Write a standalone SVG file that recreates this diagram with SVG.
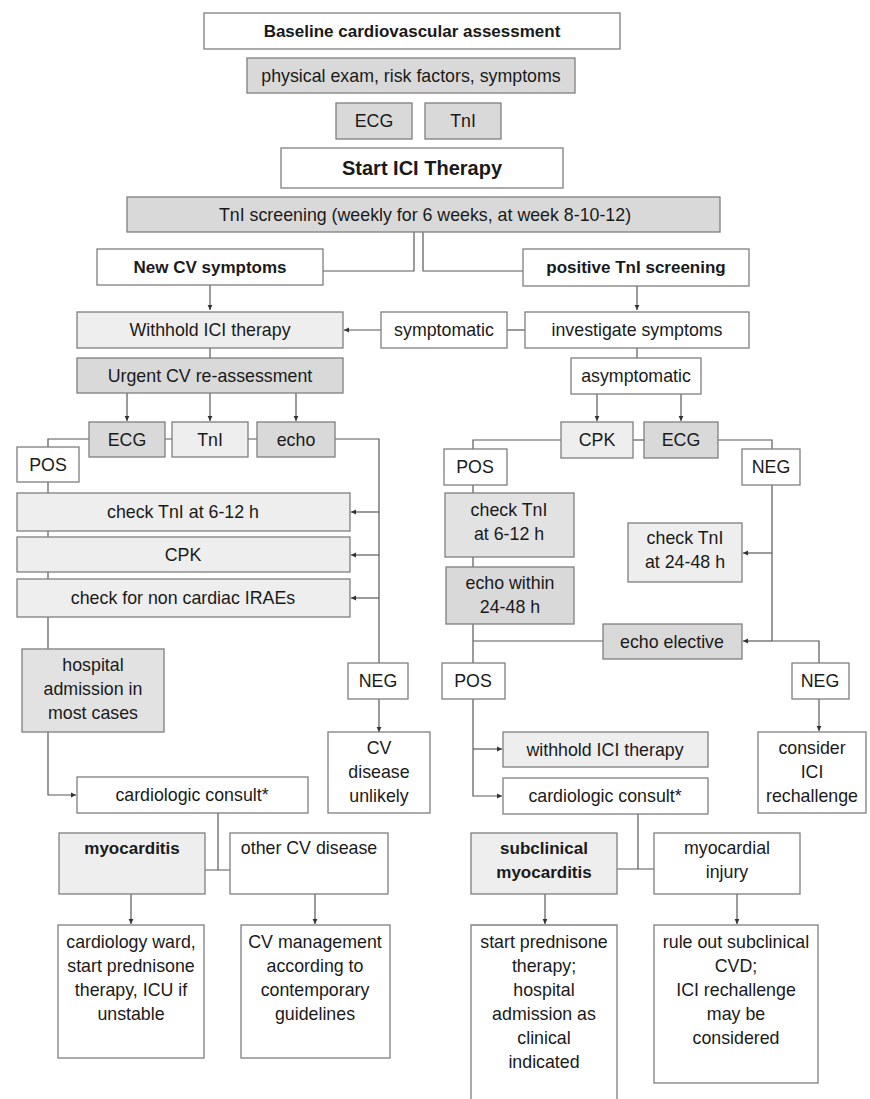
<svg xmlns="http://www.w3.org/2000/svg" width="870" height="1099" viewBox="0 0 870 1099">
<style>
.b{stroke:#7f7f7f;stroke-width:1.3;}
.w{fill:#ffffff;}
.l{fill:#eeeeee;}
.m{fill:#e2e2e2;}
.d{fill:#d9d9d9;}
text{font-family:"Liberation Sans",Arial,sans-serif;font-size:17.8px;fill:#1a1a1a;text-anchor:middle;}
.t{font-weight:bold;font-size:17px;}
.big{font-weight:bold;font-size:20px;}
.c{fill:none;stroke:#595959;stroke-width:1.2;}
</style>
<defs>
<marker id="a" markerUnits="userSpaceOnUse" markerWidth="6" markerHeight="6" refX="5" refY="3" orient="auto">
<path d="M0,0.6 L5,3 L0,5.4 Z" fill="#333333"/>
</marker>
</defs>
<rect width="870" height="1099" fill="#ffffff"/>
<g id="connectors">
<path class="c" d="M414,232 V271 H323"/>
<path class="c" d="M423,232 V271 H523"/>
<path class="c" d="M210,285 V310" marker-end="url(#a)"/>
<path class="c" d="M637,286 V310" marker-end="url(#a)"/>
<path class="c" d="M381,330 H344" marker-end="url(#a)"/>
<path class="c" d="M507,330 H525"/>
<path class="c" d="M210,348 V358"/>
<path class="c" d="M127,393 V421" marker-end="url(#a)"/>
<path class="c" d="M210,393 V421" marker-end="url(#a)"/>
<path class="c" d="M296,393 V421" marker-end="url(#a)"/>
<path class="c" d="M165,439 H172 M248,439 H257"/>
<path class="c" d="M89,439 H48 V795 H76" marker-end="url(#a)"/>
<path class="c" d="M335,439 H379 V732" marker-end="url(#a)"/>
<path class="c" d="M379,512 H351" marker-end="url(#a)"/>
<path class="c" d="M379,555 H351" marker-end="url(#a)"/>
<path class="c" d="M379,598 H351" marker-end="url(#a)"/>
<path class="c" d="M218,813 V870 M205,870 H230"/>
<path class="c" d="M131,894 V924" marker-end="url(#a)"/>
<path class="c" d="M315,894 V924" marker-end="url(#a)"/>
<path class="c" d="M637,348 V358"/>
<path class="c" d="M597,394 V421" marker-end="url(#a)"/>
<path class="c" d="M681,394 V421" marker-end="url(#a)"/>
<path class="c" d="M633,440 H644"/>
<path class="c" d="M561,440 H473 V796 H502" marker-end="url(#a)"/>
<path class="c" d="M473,749 H502" marker-end="url(#a)"/>
<path class="c" d="M473,641 H603"/>
<path class="c" d="M718,440 H772 V641 H819 V663"/>
<path class="c" d="M772,553 H743" marker-end="url(#a)"/>
<path class="c" d="M772,641 H743" marker-end="url(#a)"/>
<path class="c" d="M819,699 V731" marker-end="url(#a)"/>
<path class="c" d="M638,814 V869 M617,869 H654"/>
<path class="c" d="M545,894 V924" marker-end="url(#a)"/>
<path class="c" d="M737,894 V924" marker-end="url(#a)"/>
</g>
<g id="baseline"><rect class="b w" x="204" y="13" width="416" height="36"/><text class="t" x="412" y="37">Baseline cardiovascular assessment</text></g>
<g id="physical"><rect class="b d" x="247" y="58" width="328" height="35"/><text x="411" y="82">physical exam, risk factors, symptoms</text></g>
<g id="ecg0"><rect class="b d" x="336" y="103" width="76" height="36"/><text x="374" y="127">ECG</text></g>
<g id="tni0"><rect class="b d" x="425" y="103" width="76" height="36"/><text x="463" y="127">TnI</text></g>
<g id="start"><rect class="b w" x="281" y="148" width="282" height="40"/><text class="big" x="422" y="175">Start ICI Therapy</text></g>
<g id="screening"><rect class="b d" x="127" y="197" width="593" height="35"/><text x="425" y="221">TnI screening (weekly for 6 weeks, at week 8-10-12)</text></g>
<g id="newcv"><rect class="b w" x="97" y="249" width="226" height="36"/><text class="t" x="210" y="273">New CV symptoms</text></g>
<g id="postni"><rect class="b w" x="523" y="249" width="226" height="37"/><text class="t" x="636" y="273">positive TnI screening</text></g>
<g id="withhold"><rect class="b l" x="77" y="312" width="266" height="36"/><text x="210" y="336">Withhold ICI therapy</text></g>
<g id="symptomatic"><rect class="b w" x="381" y="312" width="126" height="36"/><text x="444" y="336">symptomatic</text></g>
<g id="investigate"><rect class="b w" x="525" y="312" width="224" height="36"/><text x="637" y="336">investigate symptoms</text></g>
<g id="urgent"><rect class="b d" x="77" y="358" width="266" height="35"/><text x="210" y="382">Urgent CV re-assessment</text></g>
<g id="asymptomatic"><rect class="b w" x="571" y="358" width="130" height="36"/><text x="636" y="382">asymptomatic</text></g>
<g id="ecg1"><rect class="b d" x="89" y="422" width="76" height="35"/><text x="127" y="446">ECG</text></g>
<g id="tni1"><rect class="b l" x="172" y="422" width="76" height="35"/><text x="210" y="446">TnI</text></g>
<g id="echo1"><rect class="b d" x="257" y="422" width="78" height="35"/><text x="296" y="446">echo</text></g>
<g id="cpk2"><rect class="b l" x="561" y="422" width="72" height="36"/><text x="597" y="446">CPK</text></g>
<g id="ecg2"><rect class="b d" x="644" y="422" width="74" height="36"/><text x="681" y="446">ECG</text></g>
<g id="pos1"><rect class="b w" x="17" y="447" width="62" height="35"/><text x="48" y="471">POS</text></g>
<g id="pos2"><rect class="b w" x="444" y="449" width="63" height="36"/><text x="475" y="473">POS</text></g>
<g id="neg2"><rect class="b w" x="742" y="449" width="58" height="36"/><text x="771" y="473">NEG</text></g>
<g id="checktni1"><rect class="b l" x="17" y="493" width="333" height="38"/><text x="183" y="518">check TnI at 6-12 h</text></g>
<g id="cpk1"><rect class="b l" x="17" y="537" width="333" height="35"/><text x="183" y="561">CPK</text></g>
<g id="irae"><rect class="b l" x="17" y="579" width="333" height="38"/><text x="183" y="604">check for non cardiac IRAEs</text></g>
<g id="checktni2"><rect class="b m" x="445" y="493" width="129" height="64"/><text x="509" y="516">check TnI</text><text x="509" y="540">at 6-12 h</text></g>
<g id="checktni3"><rect class="b l" x="628" y="523" width="114" height="59"/><text x="685" y="544">check TnI</text><text x="685" y="568">at 24-48 h</text></g>
<g id="echowithin"><rect class="b d" x="446" y="567" width="128" height="57"/><text x="510" y="589">echo within</text><text x="510" y="613">24-48 h</text></g>
<g id="echoelective"><rect class="b d" x="603" y="624" width="139" height="35"/><text x="672" y="648">echo elective</text></g>
<g id="hospital"><rect class="b m" x="22" y="649" width="142" height="83"/><text x="93" y="671">hospital</text><text x="93" y="695">admission in</text><text x="93" y="719">most cases</text></g>
<g id="neg1"><rect class="b w" x="348" y="663" width="60" height="36"/><text x="378" y="687">NEG</text></g>
<g id="pos3"><rect class="b w" x="442" y="663" width="63" height="36"/><text x="473" y="687">POS</text></g>
<g id="neg3"><rect class="b w" x="792" y="663" width="57" height="36"/><text x="820" y="687">NEG</text></g>
<g id="unlikely"><rect class="b w" x="328" y="732" width="102" height="81"/><text x="379" y="754">CV</text><text x="379" y="778">disease</text><text x="379" y="802">unlikely</text></g>
<g id="withhold2"><rect class="b l" x="503" y="732" width="205" height="35"/><text x="605" y="756">withhold ICI therapy</text></g>
<g id="consider"><rect class="b w" x="758" y="732" width="108" height="81"/><text x="812" y="754">consider</text><text x="812" y="778">ICI</text><text x="812" y="802">rechallenge</text></g>
<g id="consult1"><rect class="b w" x="77" y="777" width="231" height="36"/><text x="192" y="801">cardiologic consult*</text></g>
<g id="consult2"><rect class="b w" x="503" y="778" width="205" height="36"/><text x="605" y="802">cardiologic consult*</text></g>
<g id="myocarditis"><rect class="b l" x="59" y="833" width="146" height="61"/><text class="t" x="132" y="854">myocarditis</text></g>
<g id="othercv"><rect class="b w" x="230" y="833" width="158" height="61"/><text x="309" y="854">other CV disease</text></g>
<g id="subclinical"><rect class="b l" x="471" y="833" width="146" height="61"/><text class="t" x="544" y="854">subclinical</text><text class="t" x="544" y="878">myocarditis</text></g>
<g id="injury"><rect class="b w" x="654" y="833" width="146" height="61"/><text x="727" y="854">myocardial</text><text x="727" y="878">injury</text></g>
<g id="ward"><rect class="b w" x="58" y="925" width="146" height="133"/><text x="131" y="948">cardiology ward,</text><text x="131" y="972">start prednisone</text><text x="131" y="996">therapy, ICU if</text><text x="131" y="1020">unstable</text></g>
<g id="management"><rect class="b w" x="241" y="925" width="149" height="133"/><text x="315" y="948">CV management</text><text x="315" y="972">according to</text><text x="315" y="996">contemporary</text><text x="315" y="1020">guidelines</text></g>
<g id="prednisone"><path class="b w" d="M471,1100 V925 H617 V1100"/><text x="544" y="948">start prednisone</text><text x="544" y="972">therapy;</text><text x="544" y="996">hospital</text><text x="544" y="1020">admission as</text><text x="544" y="1044">clinical</text><text x="544" y="1068">indicated</text></g>
<g id="ruleout"><rect class="b w" x="654" y="925" width="164" height="158"/><text x="736" y="948">rule out subclinical</text><text x="736" y="972">CVD;</text><text x="736" y="996">ICI rechallenge</text><text x="736" y="1020">may be</text><text x="736" y="1044">considered</text></g>
</svg>
